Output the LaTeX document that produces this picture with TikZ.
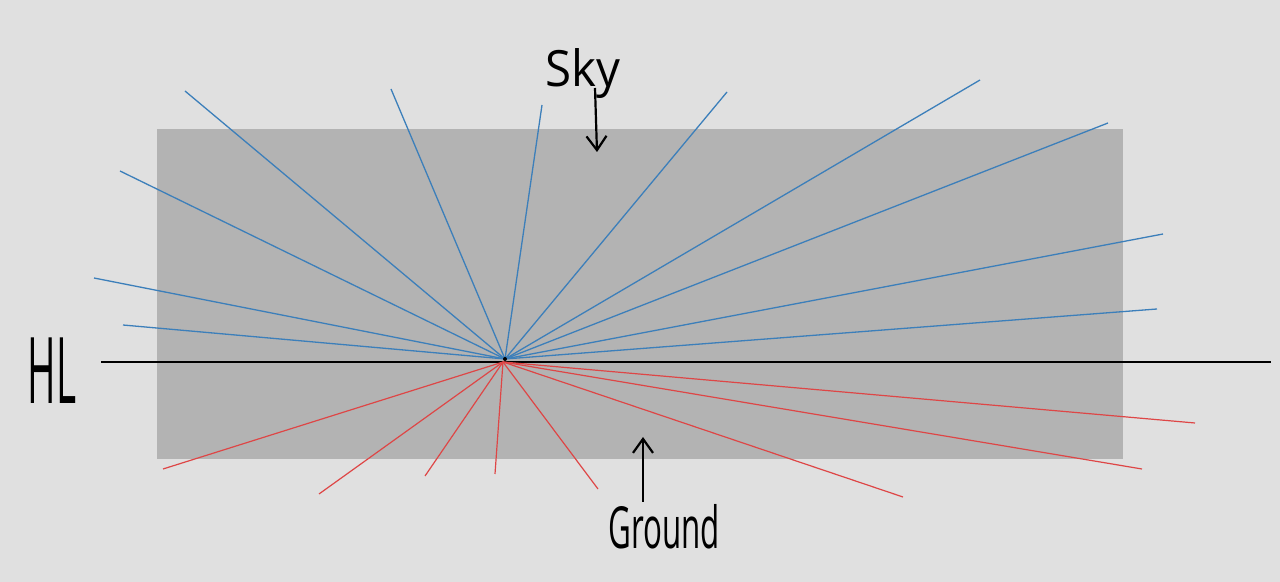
\documentclass[tikz,border=0pt]{standalone}
\usepackage{fontspec}
\setmainfont{Open Sans}
\usetikzlibrary{arrows.meta}
\definecolor{bgc}{HTML}{E0E0E0}
\definecolor{rectc}{HTML}{B3B3B3}
\definecolor{skyc}{HTML}{3C7FBA}
\definecolor{gndc}{HTML}{DE4646}
\tikzset{
  skyray/.style={draw=skyc, line width=0.65pt},
  gndray/.style={draw=gndc, line width=0.6pt},
  hand/.style={text=black, inner sep=0pt},
  handarrow/.style={draw=black, line width=1.1pt, -{Straight Barb[length=7pt,width=10pt,line width=1.1pt]}}
}
\begin{document}
\begin{tikzpicture}[x=0.5pt,y=-0.5pt]
\fill[bgc] (0,0) rectangle (1280,582);
\useasboundingbox (0,0) rectangle (1280,582);
\fill[rectc] (157,129) rectangle (1123,459);
\coordinate (hl1) at (101,362);
\coordinate (hl2) at (1271,362);
\draw[black, line width=0.85pt] (hl1) -- (hl2);
\coordinate (cs) at (505,359);
\coordinate (cg) at (503,362);
% sky ray ends
\coordinate (s1) at (185,91);
\coordinate (s2) at (391,89);
\coordinate (s3) at (542,105);
\coordinate (s4) at (727,92);
\coordinate (s5) at (980,80);
\coordinate (s6) at (1108,123);
\coordinate (s7) at (1163,234);
\coordinate (s8) at (1157,309);
\coordinate (s9) at (120,171);
\coordinate (s10) at (94,278);
\coordinate (s11) at (123,325);
% ground ray ends
\coordinate (g1) at (163,469);
\coordinate (g2) at (319,494);
\coordinate (g3) at (425,476);
\coordinate (g4) at (495,474);
\coordinate (g5) at (598,489);
\coordinate (g6) at (903,497);
\coordinate (g7) at (1142,469);
\coordinate (g8) at (1195,423);
\foreach \i in {1,...,11}{\draw[skyray] (cs) -- (s\i);}
\foreach \i in {1,...,8}{\draw[gndray] (cg) -- (g\i);}
\fill[black] (cs) circle (1pt);
% labels
\node[hand, font=\fontsize{25}{25}\selectfont, xscale=0.95] (sky) at (583,74) {Sky};
\coordinate (skytip) at (597,152);
\coordinate (skytail) at (595,88);
\draw[handarrow] (skytail) -- (skytip);
\node[hand, font=\fontsize{29}{29}\selectfont, xscale=0.54] (ground) at (664,527) {Ground};
\coordinate (gtip) at (643,437);
\coordinate (gtail) at (643,502);
\draw[handarrow] (gtail) -- (gtip);
\node[hand, font=\fontsize{46}{46}\selectfont, xscale=0.42] (hl) at (52,371) {HL};
\end{tikzpicture}
\end{document}
